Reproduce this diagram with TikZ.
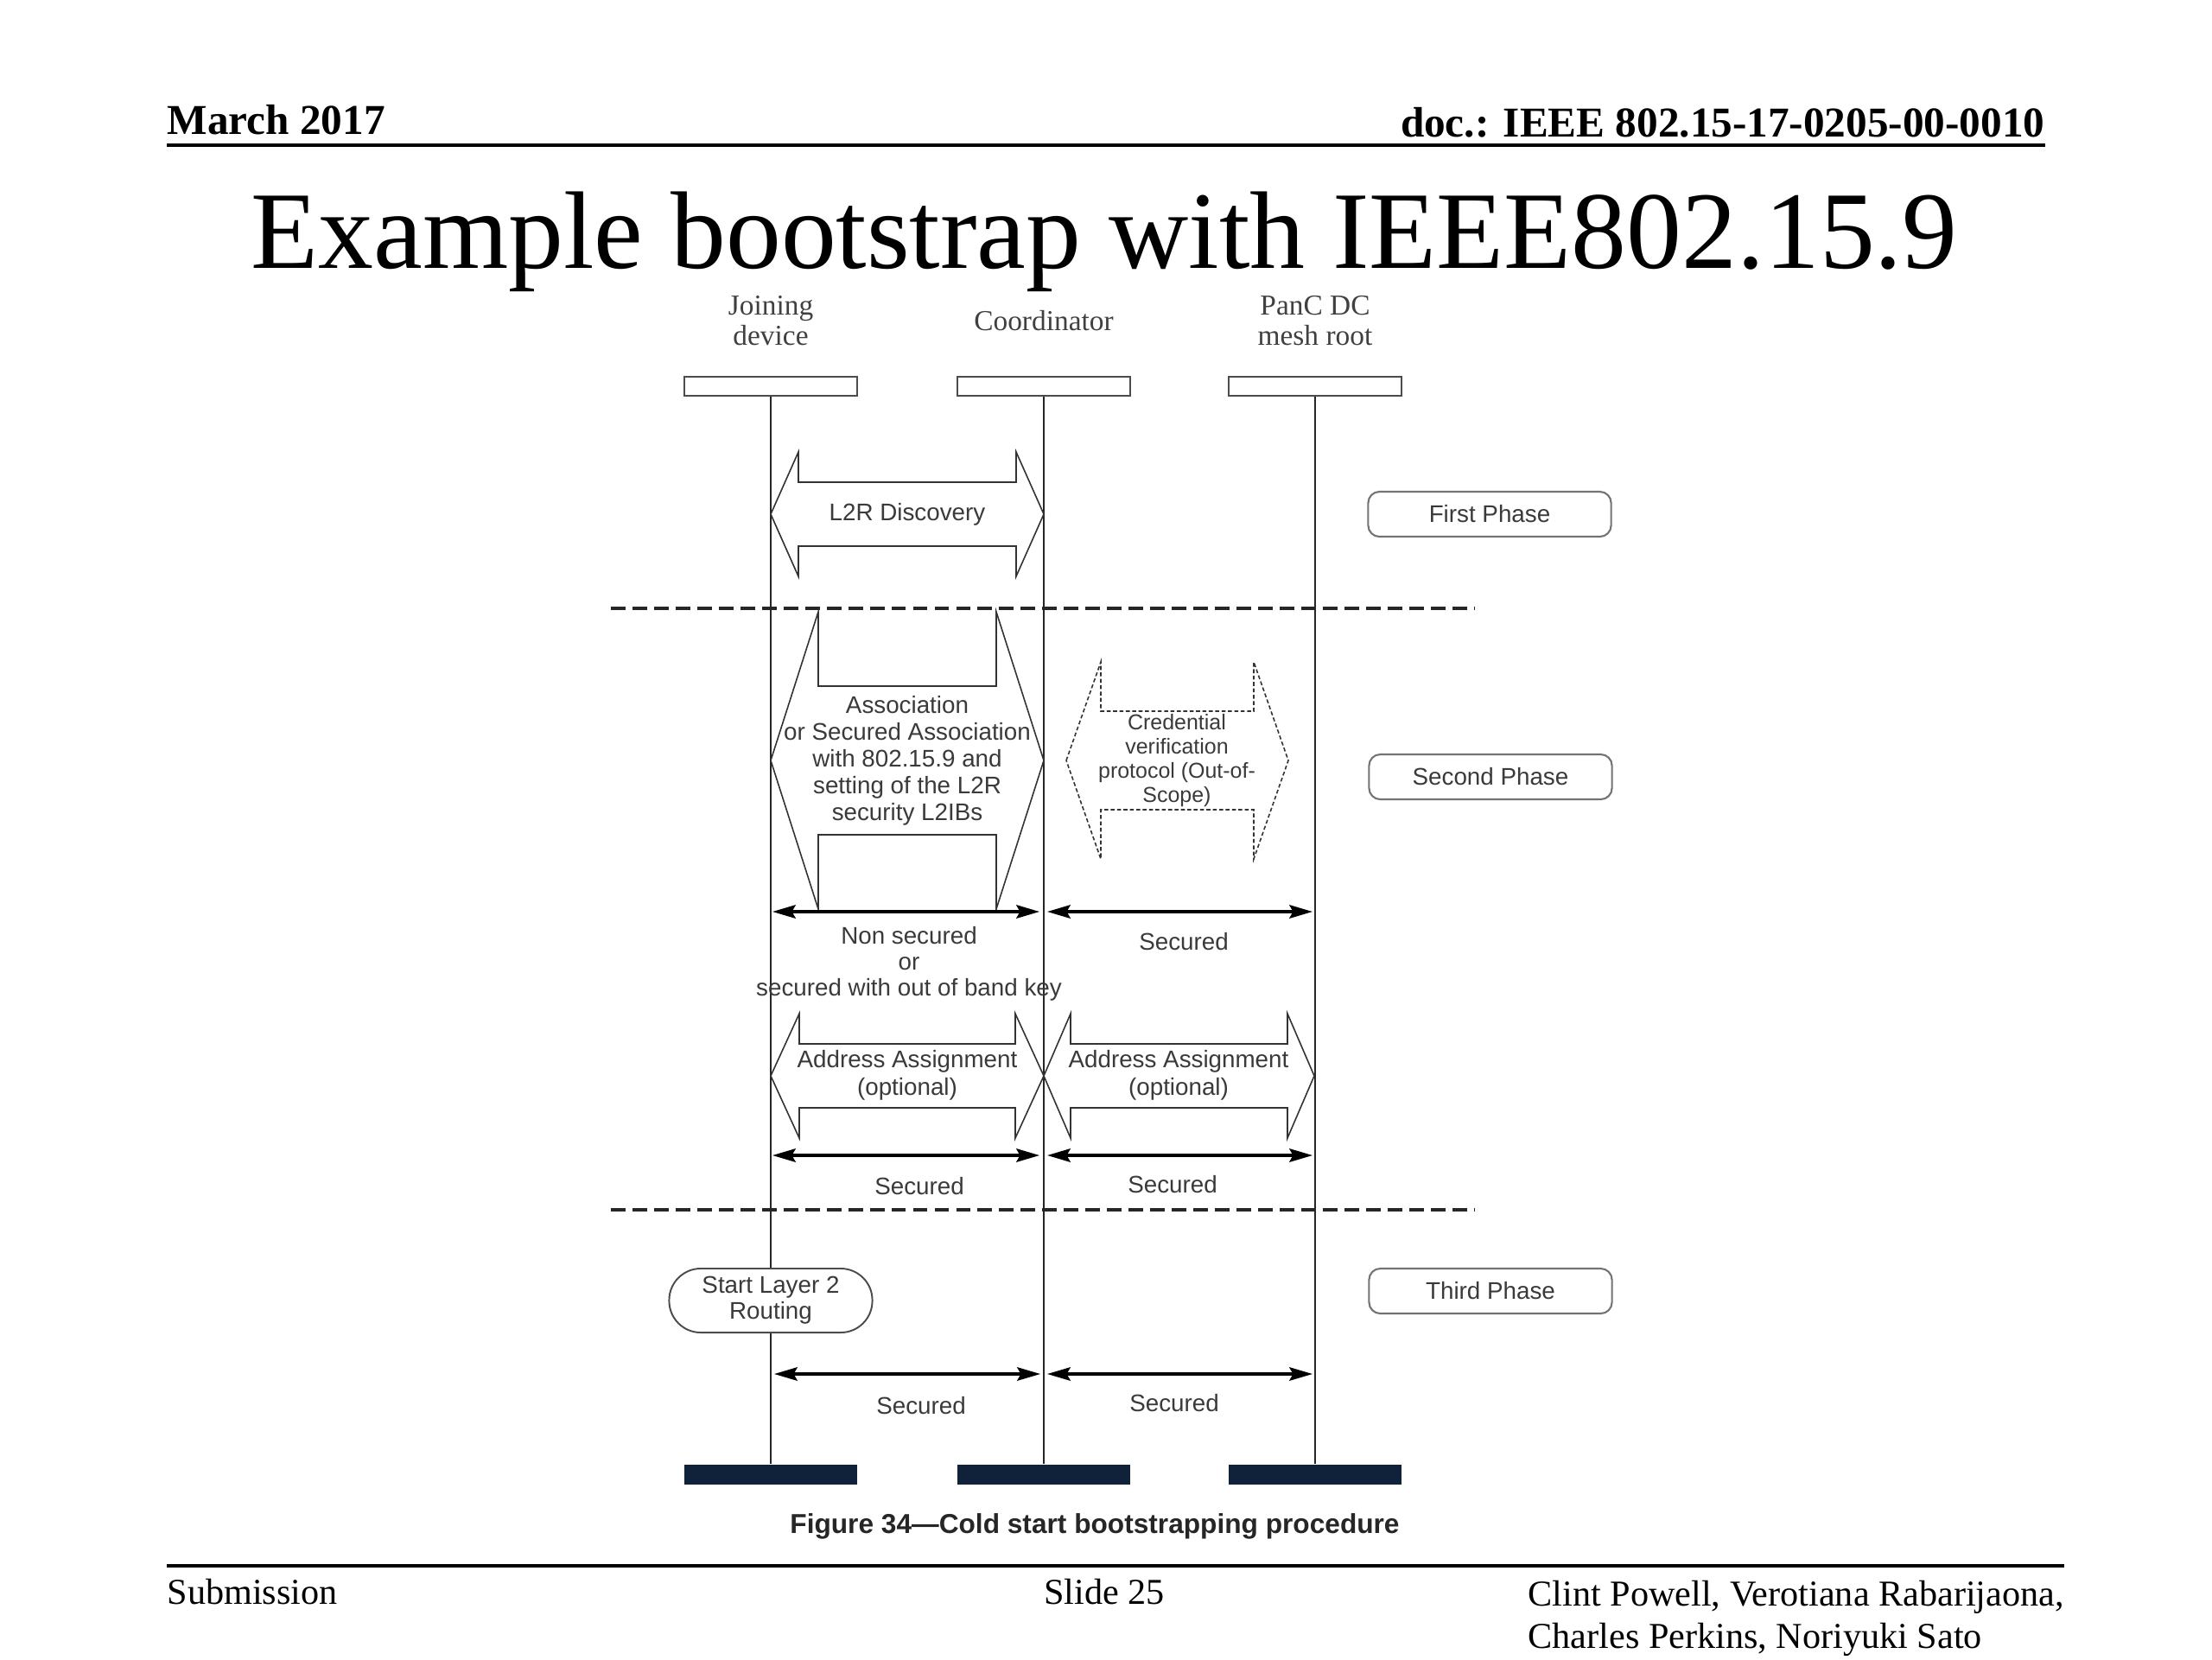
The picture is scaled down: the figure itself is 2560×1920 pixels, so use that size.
\documentclass[tikz,border=0pt]{standalone}
\usepackage{fontspec}
\setmainfont{Liberation Serif}
\setsansfont{Liberation Sans}
\usetikzlibrary{arrows.meta}
\definecolor{navy}{RGB}{16,33,58}
\definecolor{txtgray}{RGB}{58,58,58}
% #1 options, #2 x left tip, #3 x right tip, #4 y centre, #5 head half height, #6 shaft half height, #7 head length
\newcommand\blockarrow[7][]{%
  \draw[blk,#1] (#2,#4) -- (#2+#7,#4-#5) -- (#2+#7,#4-#6) -- (#3-#7,#4-#6) -- (#3-#7,#4-#5)
    -- (#3,#4) -- (#3-#7,#4+#5) -- (#3-#7,#4+#6) -- (#2+#7,#4+#6) -- (#2+#7,#4+#5) -- cycle;}
\begin{document}
\begin{tikzpicture}[x=0.01cm,y=-0.01cm,
  lifebox/.style={draw=black!70, line width=0.55pt, fill=white, minimum width=2cm, minimum height=0.22cm, inner sep=0pt},
  endbar/.style={fill=navy, minimum width=2cm, minimum height=0.23cm, inner sep=0pt},
  lifeline/.style={line width=0.75pt, black!85},
  actor/.style={font=\fontsize{9.5}{9.9}\selectfont, text=black!75, align=center, inner sep=0pt},
  phase/.style={draw=black!55, line width=0.6pt, rounded corners=3.7pt, minimum width=2.81cm, minimum height=0.52cm, font=\sffamily\fontsize{7.9}{9}\selectfont, text=txtgray, inner sep=0pt},
  lbl/.style={font=\sffamily\fontsize{7.9}{8.8}\selectfont, text=txtgray, align=center, inner sep=0pt},
  blk/.style={draw=black!80, line width=0.45pt, fill=white},
  msg/.style={line width=0.95pt, black, {Stealth[length=7.6pt,width=4.4pt,inset=1.2pt]}-{Stealth[length=7.6pt,width=4.4pt,inset=1.2pt]}},
  phasesep/.style={line width=0.9pt, dash pattern=on 4.8pt off 2.3pt, black!85},
  rulestyle/.style={line width=1pt, black}
]
\useasboundingbox (0,0) rectangle (2560,1920);

% header and footer
\node[anchor=base west, font=\bfseries\fontsize{14}{16}\selectfont, inner sep=0pt] (date) at (193,155) {March 2017};
\node[anchor=base east, font=\bfseries\fontsize{14}{16}\selectfont, inner sep=0pt] (doc) at (2367,158) {doc.: IEEE 802.15-17-0205-00-0010};
\coordinate (hrl) at (193,168); \coordinate (hrr) at (2367,168);
\draw[rulestyle] (hrl) -- (hrr);
\node[anchor=base, font=\fontsize{36.3}{40}\selectfont, inner sep=0pt] (title) at (1278,310) {Example bootstrap with IEEE802.15.9};
\coordinate (frl) at (193,1812); \coordinate (frr) at (2389,1812);
\draw[rulestyle] (frl) -- (frr);
\node[anchor=base west, font=\fontsize{12}{14}\selectfont, inner sep=0pt] (sub) at (193,1856) {Submission};
\node[anchor=base, font=\fontsize{12}{14}\selectfont, inner sep=0pt] (slide) at (1278,1856) {Slide 25};
\node[anchor=base west, font=\fontsize{12}{14}\selectfont, inner sep=0pt] (auth1) at (1768,1858) {Clint Powell, Verotiana Rabarijaona,};
\node[anchor=base west, font=\fontsize{12}{14}\selectfont, inner sep=0pt] (auth2) at (1768,1907) {Charles Perkins, Noriyuki Sato};

% actors
\node[actor] (jlab) at (892,371) {Joining\\device};
\node[actor] (clab) at (1208,371) {Coordinator};
\node[actor] (plab) at (1522,371) {PanC DC\\mesh root};
\node[lifebox] (jtop) at (892,447) {};
\node[lifebox] (ctop) at (1208,447) {};
\node[lifebox] (ptop) at (1522,447) {};
\node[endbar] (jbot) at (892,1706) {};
\node[endbar] (cbot) at (1208,1706) {};
\node[endbar] (pbot) at (1522,1706) {};
\draw[lifeline] (jtop.south) -- (jbot.north);
\draw[lifeline] (ctop.south) -- (cbot.north);
\draw[lifeline] (ptop.south) -- (pbot.north);

% phase separators
\coordinate (s1l) at (707,704); \coordinate (s1r) at (1706,704);
\coordinate (s2l) at (707,1400); \coordinate (s2r) at (1706,1400);
\draw[phasesep] (s1l) -- (s1r);
\draw[phasesep] (s2l) -- (s2r);

% phase labels
\node[phase] (ph1) at (1724,595) {First Phase};
\node[phase] (ph2) at (1725,899) {Second Phase};
\node[phase] (ph3) at (1725,1494) {Third Phase};

% first phase
\blockarrow{892}{1208}{595}{72}{37}{32}
\node[lbl] (disc) at (1050,595) {L2R Discovery};

% second phase
\blockarrow{892}{1208}{880}{172}{86}{55}
\node[lbl] (assoc) at (1050,880) {Association\\or Secured Association\\with 802.15.9 and\\setting of the L2R\\security L2IBs};
\blockarrow[dash pattern=on 1.3pt off 0.8pt]{1234}{1491}{880}{114}{57}{40}
\node[lbl, font=\sffamily\fontsize{7.1}{7.9}\selectfont] (cred) at (1362,880) {Credential\\verification\\protocol (Out-of-\\Scope)};

\coordinate (m1a) at (894,1055); \coordinate (m1b) at (1203,1055);
\coordinate (m1c) at (1212,1055); \coordinate (m1d) at (1519,1055);
\draw[msg] (m1a) -- (m1b);
\draw[msg] (m1c) -- (m1d);
\node[lbl, font=\sffamily\fontsize{7.9}{8.5}\selectfont] (nonsec) at (1052,1115) {Non secured\\or\\secured with out of band key};
\node[lbl] (sec1) at (1370,1090) {Secured};

\blockarrow{892}{1208}{1245}{72}{37}{33}
\blockarrow{1208}{1521}{1245}{72}{37}{31}
\node[lbl, font=\sffamily\fontsize{7.9}{9}\selectfont] (addr1) at (1050,1244) {Address Assignment\\(optional)};
\node[lbl, font=\sffamily\fontsize{7.9}{9}\selectfont] (addr2) at (1364,1244) {Address Assignment\\(optional)};

\coordinate (m2a) at (894,1337); \coordinate (m2b) at (1203,1337);
\coordinate (m2c) at (1212,1337); \coordinate (m2d) at (1519,1337);
\draw[msg] (m2a) -- (m2b);
\draw[msg] (m2c) -- (m2d);
\node[lbl] (sec2) at (1064,1373) {Secured};
\node[lbl] (sec3) at (1357,1371) {Secured};

% third phase
\node[draw=black!70, line width=0.55pt, fill=white, rounded corners=10.4pt, minimum width=2.35cm, minimum height=0.74cm, inner sep=0pt, font=\sffamily\fontsize{7.9}{8.5}\selectfont, text=txtgray, align=center] (route) at (892,1505) {Start Layer 2\\Routing};
\coordinate (m3a) at (896,1590); \coordinate (m3b) at (1204,1590);
\coordinate (m3c) at (1212,1590); \coordinate (m3d) at (1519,1590);
\draw[msg] (m3a) -- (m3b);
\draw[msg] (m3c) -- (m3d);
\node[lbl] (sec4) at (1066,1627) {Secured};
\node[lbl] (sec5) at (1359,1624) {Secured};

% caption
\node[font=\sffamily\bfseries\fontsize{9}{10}\selectfont, text=black!85, inner sep=0pt] (cap) at (1267,1766) {Figure 34---Cold start bootstrapping procedure};
\end{tikzpicture}
\end{document}
